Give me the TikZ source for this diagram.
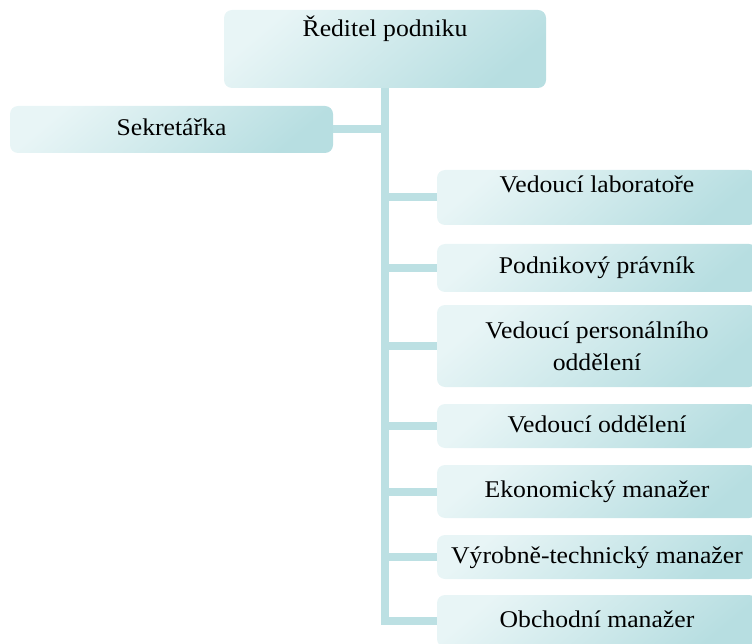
\documentclass[tikz,border=0pt]{standalone}
\usepackage{fontspec}
\setmainfont{Liberation Serif}[FakeStretch=1.07]
\usepackage{tikz}
\usetikzlibrary{positioning}
\definecolor{boxlight}{HTML}{E8F5F6}
\definecolor{boxdark}{HTML}{B7DEE1}
\definecolor{linkcol}{HTML}{BCE0E3}

\begin{document}
\begin{tikzpicture}[
  x=1pt, y=-1pt,
  every node/.style={font=\fontsize{24}{32}\selectfont},
  unit/.style={rounded corners=8pt, top color=boxlight, bottom color=boxdark, shading angle=40, align=center, inner sep=0pt},
  lunit/.style={unit, minimum width=320pt},
  oneline/.style={text height=17pt, text depth=5pt},
  link/.style={draw=linkcol, line width=8pt}
]
\useasboundingbox (0,0) rectangle (752,644);
\node[unit, minimum width=322pt, minimum height=78pt] (director) at (385,49) {};
\node[oneline] (directorlbl) at (385,31) {Ředitel podniku};
\node[unit, oneline, minimum width=323pt, minimum height=47pt] (secretary) at (171.5,129.5) {Sekretářka};
\node[lunit, minimum height=55pt] (lab) at (597,197.5) {};
\node[oneline] (lablbl) at (597,187) {Vedoucí laboratoře};
\node[lunit, oneline, minimum height=48pt] (lawyer) at (597,268) {Podnikový právník};
\node[lunit, minimum height=82pt] (hr) at (597,346) {Vedoucí personálního\\oddělení};
\node[lunit, oneline, minimum height=44pt] (dept) at (597,426) {Vedoucí oddělení};
\node[lunit, oneline, minimum height=53pt] (econ) at (597,491.5) {Ekonomický manažer};
\node[lunit, oneline, minimum height=44pt] (prod) at (597,557) {Výrobně-technický manažer};
\node[lunit, oneline, minimum height=52pt] (sales) at (597,621) {Obchodní manažer};
\draw[link] (director.south) |- (sales.west);
\draw[link] (director.south |- secretary.east) -- (secretary.east);
\draw[link] (director.south |- lab.west) -- (lab.west);
\draw[link] (director.south |- lawyer.west) -- (lawyer.west);
\draw[link] (director.south |- hr.west) -- (hr.west);
\draw[link] (director.south |- dept.west) -- (dept.west);
\draw[link] (director.south |- econ.west) -- (econ.west);
\draw[link] (director.south |- prod.west) -- (prod.west);
\end{tikzpicture}
\end{document}
